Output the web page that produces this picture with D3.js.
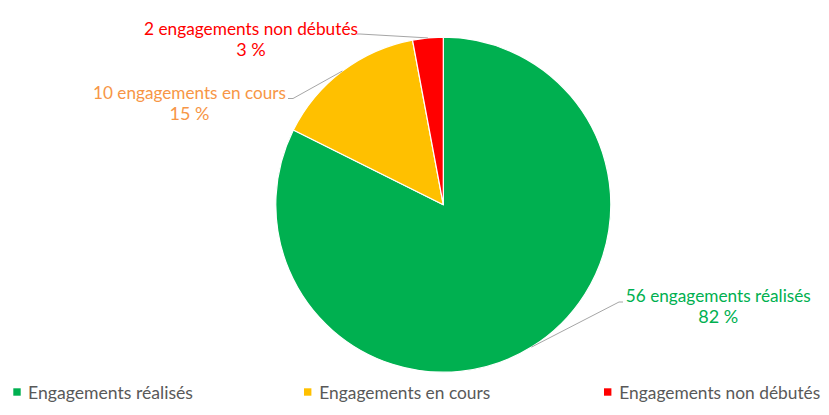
<!DOCTYPE html>
<html><head><meta charset="utf-8">
<script src="https://cdn.jsdelivr.net/npm/d3@7"></script>
<style>
html,body{margin:0;padding:0;background:#fff;}
svg{display:block;font-family:Lato,"Open Sans",sans-serif;}
</style></head>
<body>
<svg id="c" width="829" height="415"></svg>
<script>
// Data
const categories = ["Engagements réalisés", "Engagements en cours", "Engagements non débutés"];
const counts = [56, 10, 2];
const percentLabels = ["82 %", "15 %", "3 %"];
const labelLines = ["56 engagements réalisés", "10 engagements en cours", "2 engagements non débutés"];
const colors = ["#00B050", "#FFC000", "#FF0000"];
const labelColors = ["#00B050", "#F79646", "#FF0000"];

// Layout (styles/positions)
const W = 829, H = 415;
const cx = 443.3, cy = 204.7, R = 167.5;
const fontSize = 18;
// label anchor (center x, first baseline y), connector end point, and target text width
const labelLayout = [
  {x: 718.3, y: 301.5, conn: [[619, 302], [623, 302]], w: 185},
  {x: 189.5, y: 99, conn: [[293, 98.5], [288, 98.5]], w: 193},
  {x: 251, y: 35, conn: [[360, 34], [357, 34]], w: 214}
];
const legendLayout = [
  {sx: 13.3, tx: 28, w: 165},
  {sx: 304, tx: 319.3, w: 171},
  {sx: 604, tx: 619.3, w: 201}
];

const svg = d3.select("#c");
const data = categories.map((c, i) => ({cat: c, value: counts[i], color: colors[i], i}));

const pie = d3.pie().value(d => d.value).sort(null).startAngle(0).endAngle(2 * Math.PI);
const arcs = pie(data);
const arc = d3.arc().innerRadius(0).outerRadius(R);
const edgeArc = d3.arc().innerRadius(R).outerRadius(R);

const g = svg.append("g").attr("transform", `translate(${cx},${cy})`);
g.selectAll("path.slice").data(arcs).join("path")
  .attr("class", "slice")
  .attr("d", arc)
  .attr("fill", d => d.data.color)
  .attr("stroke", "#fff")
  .attr("stroke-width", 1.2)
  .attr("stroke-linejoin", "round");

// Leader lines
const line = d3.line();
svg.selectAll("path.leader").data(arcs).join("path")
  .attr("class", "leader")
  .attr("d", d => {
    const c = edgeArc.centroid(d);
    const pts = [[cx + c[0], cy + c[1]], ...labelLayout[d.index].conn];
    return line(pts);
  })
  .attr("fill", "none")
  .attr("stroke", "#A6A6A6")
  .attr("stroke-width", 1);

// Labels
function fitText(sel, target) {
  sel.each(function() {
    const n = this.getComputedTextLength();
    if (target && n > 0) {
      d3.select(this).attr("textLength", target).attr("lengthAdjust", "spacingAndGlyphs");
    }
  });
}
arcs.forEach(d => {
  const L = labelLayout[d.index];
  const t1 = svg.append("text")
    .attr("x", L.x).attr("y", L.y)
    .attr("text-anchor", "middle")
    .attr("font-size", fontSize)
    .attr("fill", labelColors[d.index])
    .text(labelLines[d.index]);
  fitText(t1, L.w);
  svg.append("text")
    .attr("x", L.x).attr("y", L.y + 21.3)
    .attr("text-anchor", "middle")
    .attr("font-size", fontSize)
    .attr("fill", labelColors[d.index])
    .text(percentLabels[d.index]);
});

// Legend
const lg = svg.append("g");
data.forEach((d, i) => {
  const L = legendLayout[i];
  lg.append("rect")
    .attr("x", L.sx).attr("y", 388.3)
    .attr("width", 7.4).attr("height", 7.4)
    .attr("fill", d.color);
  const t = lg.append("text")
    .attr("x", L.tx).attr("y", 399)
    .attr("font-size", fontSize)
    .attr("fill", "#595959")
    .text(d.cat);
  fitText(t, L.w);
});
</script>
</body></html>
